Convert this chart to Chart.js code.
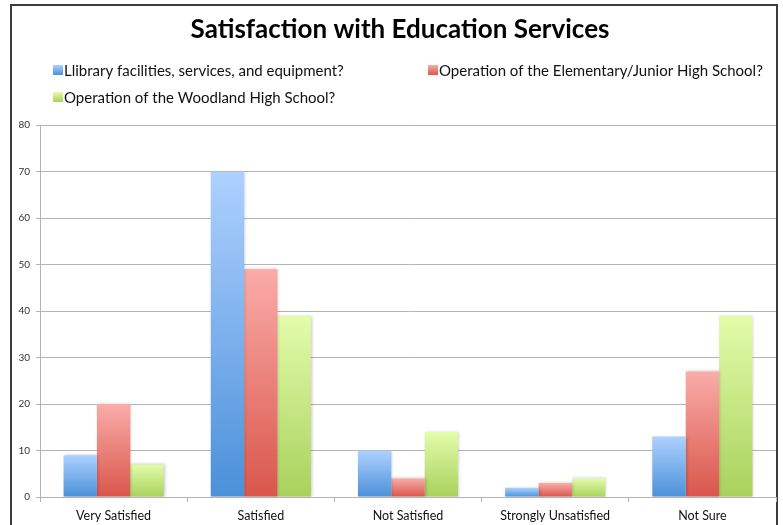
<!DOCTYPE html>
<html>
<head>
<meta charset="utf-8">
<title>Satisfaction with Education Services</title>
<script src="https://cdn.jsdelivr.net/npm/chart.js@4"></script>
<style>
  html, body { margin: 0; padding: 0; background: #fff; overflow: hidden; }
  canvas { display: block; }
</style>
</head>
<body>
<canvas id="eduChart" width="783" height="525"></canvas>
<script>
const chartTitle = 'Satisfaction with Education Services';
const categories = ['Very Satisfied', 'Satisfied', 'Not Satisfied', 'Strongly Unsatisfied', 'Not Sure'];
const seriesNames = [
  'Llibrary facilities, services, and equipment?',
  'Operation of the Elementary/Junior High School?',
  'Operation of the Woodland High School?'
];
const libraryValues = [9, 70, 10, 2, 13];
const elementaryValues = [20, 49, 4, 3, 27];
const highSchoolValues = [7, 39, 14, 4, 39];
const yMin = 0;
const yMax = 80;
const yStep = 10;

const FONT = 'Lato, "Open Sans", sans-serif';
const GRID = '#b4b4b4';

// light top -> darker bottom, per series
const palette = [
  { top: '#aed1ff', bottom: '#4b90d9' },
  { top: '#faaca9', bottom: '#d9564b' },
  { top: '#e3fcaa', bottom: '#a9d15d' }
];

function barFill(colors) {
  return (c) => {
    const chart = c.chart;
    if (!chart.chartArea || c.type !== 'data') return colors.bottom;
    const y = chart.scales.y;
    const y0 = y.getPixelForValue(0);
    const y1 = y.getPixelForValue(c.raw);
    if (Math.abs(y0 - y1) < 1) return colors.bottom;
    const g = chart.ctx.createLinearGradient(0, y1, 0, y0);
    g.addColorStop(0, colors.top);
    g.addColorStop(1, colors.bottom);
    return g;
  };
}

// outer frame round the chart (open at the bottom)
const framePlugin = {
  id: 'frame',
  beforeDraw(chart) {
    const ctx = chart.ctx;
    ctx.save();
    ctx.strokeStyle = '#3c3c3c';
    ctx.lineWidth = 2;
    ctx.beginPath();
    ctx.moveTo(11, chart.height + 2);
    ctx.lineTo(11, 5);
    ctx.lineTo(777, 5);
    ctx.lineTo(777, chart.height + 2);
    ctx.stroke();
    ctx.restore();
  }
};

// title plus a two-column legend in the space above the plot
const headerPlugin = {
  id: 'header',
  afterDraw(chart) {
    const ctx = chart.ctx;
    ctx.save();
    ctx.textBaseline = 'middle';
    ctx.textAlign = 'center';
    ctx.fillStyle = '#000';
    ctx.font = 'bold 26px ' + FONT;
    ctx.fillText(chartTitle, 400, 30);

    const spots = [[53, 70], [428, 70], [53, 97]];
    ctx.textAlign = 'left';
    ctx.font = '15px ' + FONT;
    chart.data.datasets.forEach((ds, i) => {
      const [x, y] = spots[i];
      const g = ctx.createLinearGradient(0, y - 5, 0, y + 5);
      g.addColorStop(0, palette[i].top);
      g.addColorStop(1, palette[i].bottom);
      ctx.fillStyle = g;
      ctx.fillRect(x, y - 5, 10, 10);
      ctx.fillStyle = '#111';
      ctx.fillText(ds.label, x + 11, y + 1);
    });
    ctx.restore();
  }
};

// soft drop shadow behind the bars
const barShadow = {
  id: 'barShadow',
  beforeDatasetsDraw(chart) {
    const ctx = chart.ctx;
    ctx.save();
    ctx.shadowColor = 'rgba(0,0,0,0.22)';
    ctx.shadowBlur = 3;
    ctx.shadowOffsetX = 1;
    ctx.shadowOffsetY = 0;
  },
  afterDatasetsDraw(chart) {
    chart.ctx.restore();
  }
};

const ctx = document.getElementById('eduChart').getContext('2d');

new Chart(ctx, {
  type: 'bar',
  data: {
    labels: categories,
    datasets: [libraryValues, elementaryValues, highSchoolValues].map((vals, i) => ({
      label: seriesNames[i],
      data: vals,
      backgroundColor: barFill(palette[i]),
      borderWidth: 0,
      barPercentage: 1,
      categoryPercentage: 0.68
    }))
  },
  options: {
    responsive: false,
    animation: false,
    devicePixelRatio: 1,
    layout: { padding: { left: 12, right: 7, top: 125, bottom: 0 } },
    plugins: {
      legend: { display: false },
      tooltip: { enabled: false },
      title: { display: false }
    },
    scales: {
      x: {
        grid: {
          display: true,
          offset: true,
          drawOnChartArea: false,
          color: GRID,
          tickLength: 5
        },
        border: { color: GRID },
        ticks: {
          color: '#111',
          font: { family: FONT, size: 12.5 },
          padding: 6,
          maxRotation: 0
        },
        afterFit(s) { s.height = 28; }
      },
      y: {
        min: yMin,
        max: yMax,
        grid: { color: GRID, tickLength: 4 },
        border: { color: GRID },
        ticks: {
          stepSize: yStep,
          color: '#333',
          font: { family: FONT, size: 10 },
          padding: 6
        },
        afterFit(s) { s.width = 28; }
      }
    }
  },
  plugins: [framePlugin, barShadow, headerPlugin]
});
</script>
</body>
</html>
